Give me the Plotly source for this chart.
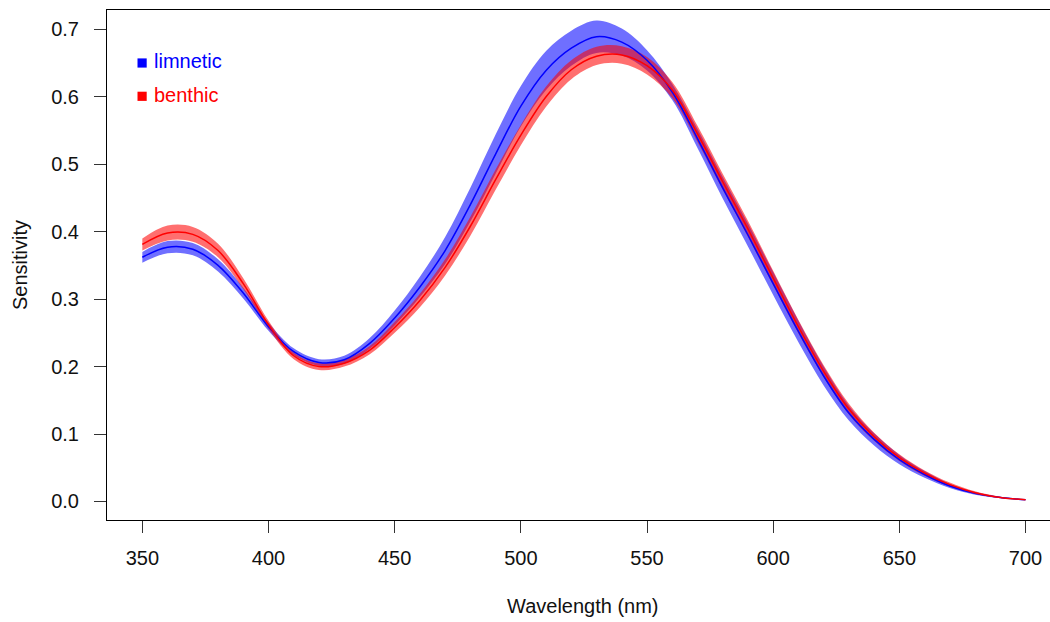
import plotly.graph_objects as go

wavelength = list(range(350, 701, 10))

limnetic_mean = [0.362, 0.377, 0.374, 0.350, 0.309, 0.259, 0.222, 0.206, 0.210, 0.234,
                 0.272, 0.318, 0.372, 0.440, 0.515, 0.586, 0.639, 0.672, 0.689, 0.681,
                 0.654, 0.607, 0.538, 0.465, 0.395, 0.323, 0.252, 0.186, 0.131, 0.092,
                 0.062, 0.040, 0.023, 0.012, 0.006, 0.0025]
limnetic_lower = [0.354, 0.368, 0.365, 0.341, 0.301, 0.253, 0.217, 0.201, 0.204, 0.226,
                  0.261, 0.303, 0.352, 0.415, 0.486, 0.556, 0.610, 0.646, 0.665, 0.661,
                  0.639, 0.595, 0.524, 0.449, 0.378, 0.306, 0.236, 0.172, 0.120, 0.083,
                  0.055, 0.035, 0.020, 0.010, 0.005, 0.002]
limnetic_upper = [0.370, 0.386, 0.383, 0.359, 0.317, 0.265, 0.227, 0.211, 0.216, 0.242,
                  0.283, 0.333, 0.392, 0.465, 0.544, 0.616, 0.668, 0.698, 0.713, 0.701,
                  0.669, 0.619, 0.552, 0.481, 0.412, 0.340, 0.268, 0.200, 0.142, 0.101,
                  0.069, 0.045, 0.026, 0.014, 0.007, 0.003]

benthic_mean = [0.381, 0.398, 0.396, 0.372, 0.323, 0.262, 0.216, 0.200, 0.205, 0.224,
                0.258, 0.298, 0.347, 0.408, 0.477, 0.543, 0.600, 0.640, 0.660, 0.662,
                0.646, 0.610, 0.545, 0.474, 0.404, 0.331, 0.259, 0.193, 0.137, 0.096,
                0.065, 0.042, 0.025, 0.013, 0.006, 0.0025]
benthic_lower = [0.372, 0.387, 0.385, 0.362, 0.315, 0.256, 0.211, 0.195, 0.200, 0.218,
                 0.250, 0.288, 0.335, 0.394, 0.462, 0.528, 0.585, 0.626, 0.647, 0.649,
                 0.633, 0.598, 0.533, 0.462, 0.392, 0.320, 0.249, 0.184, 0.129, 0.090,
                 0.060, 0.038, 0.022, 0.011, 0.005, 0.002]
benthic_upper = [0.390, 0.409, 0.407, 0.382, 0.331, 0.268, 0.221, 0.205, 0.210, 0.230,
                 0.266, 0.308, 0.359, 0.422, 0.492, 0.558, 0.615, 0.654, 0.674, 0.675,
                 0.659, 0.622, 0.557, 0.486, 0.416, 0.342, 0.269, 0.202, 0.145, 0.102,
                 0.070, 0.046, 0.028, 0.015, 0.007, 0.003]

x_ticks = [350, 400, 450, 500, 550, 600, 650, 700]
y_ticks = [0.0, 0.1, 0.2, 0.3, 0.4, 0.5, 0.6, 0.7]
y_tick_labels = ["0.0", "0.1", "0.2", "0.3", "0.4", "0.5", "0.6", "0.7"]

FONT = "Liberation Sans, Arial, Helvetica, sans-serif"
FS = 20

fig = go.Figure()

def band(lower, upper, color):
    fig.add_trace(go.Scatter(x=wavelength, y=upper, mode="lines",
                             line=dict(width=0, shape="spline", smoothing=1.0),
                             hoverinfo="skip", showlegend=False))
    fig.add_trace(go.Scatter(x=wavelength, y=lower, mode="lines",
                             line=dict(width=0, shape="spline", smoothing=1.0),
                             fill="tonexty", fillcolor=color,
                             hoverinfo="skip", showlegend=False))

band(limnetic_lower, limnetic_upper, "rgba(0,0,255,0.565)")
band(benthic_lower, benthic_upper, "rgba(255,0,0,0.565)")

fig.add_trace(go.Scatter(x=wavelength, y=limnetic_mean, mode="lines", name="limnetic",
                         line=dict(color="#0000ff", width=1.5, shape="spline", smoothing=1.0),
                         showlegend=False))
fig.add_trace(go.Scatter(x=wavelength, y=benthic_mean, mode="lines", name="benthic",
                         line=dict(color="#ff0000", width=1.5, shape="spline", smoothing=1.0),
                         showlegend=False))

L, T, W, H = 107.0, 10.0, 943.0, 510.0
def px(x):
    return (x - L) / W
def py(y):
    return 1 - (y - T) / H

shapes = []
annotations = []
for label, color, yc in [("limnetic", "#0000ff", 63.0), ("benthic", "#ff0000", 96.3)]:
    shapes.append(dict(type="rect", xref="paper", yref="paper",
                       x0=px(137.5), x1=px(146.7), y0=py(yc - 4.6), y1=py(yc + 4.6),
                       fillcolor=color, line=dict(width=0)))
    annotations.append(dict(text=label, xref="paper", yref="paper", x=px(152), y=py(yc - 1.5),
                            xanchor="left", yanchor="middle", showarrow=False,
                            font=dict(family=FONT, size=FS, color=color)))

annotations.append(dict(text="Wavelength (nm)", xref="paper", yref="paper",
                        x=px(583), y=py(606), xanchor="center", yanchor="middle",
                        showarrow=False, font=dict(family=FONT, size=FS, color="#111")))
annotations.append(dict(text="Sensitivity", xref="paper", yref="paper",
                        x=px(20), y=py(265), xanchor="center", yanchor="middle",
                        textangle=-90, showarrow=False,
                        font=dict(family=FONT, size=FS, color="#111")))

fig.update_layout(
    width=1050, height=622,
    margin=dict(l=107, r=0, t=10, b=102, autoexpand=False),
    paper_bgcolor="white", plot_bgcolor="white",
    font=dict(family=FONT, size=FS, color="#111"),
    shapes=shapes, annotations=annotations,
    showlegend=False,
)
fig.update_xaxes(range=[336.0, 709.7], tickvals=x_ticks, ticks="outside", ticklen=12,
                 tickcolor="#333", tickwidth=1, showline=True, linecolor="black", linewidth=1,
                 mirror=True, showgrid=False, zeroline=False, ticklabelstandoff=8,
                 automargin=False,
                 tickfont=dict(family=FONT, size=FS, color="#111"))
fig.update_yaxes(range=[-0.0275, 0.7286], tickvals=y_ticks, ticktext=y_tick_labels,
                 ticks="outside", ticklen=12, tickcolor="#333", tickwidth=1,
                 showline=True, linecolor="black", linewidth=1, mirror=False,
                 showgrid=False, zeroline=False, ticklabelstandoff=11,
                 automargin=False,
                 tickfont=dict(family=FONT, size=FS, color="#111"))

fig.write_html("out.html", config={"displayModeBar": False},
               post_script="document.body.style.margin='0px';document.body.style.overflow='hidden';")
